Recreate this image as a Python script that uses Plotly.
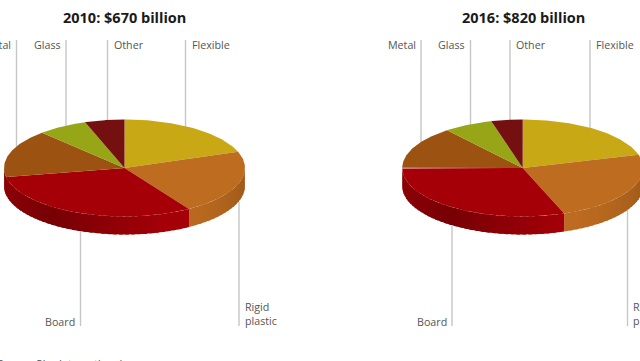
import numpy as np
import plotly.graph_objects as go

categories = ["Flexible", "Rigid plastic", "Board", "Metal", "Glass", "Other"]
values_2010 = [19.6, 21.4, 31.0, 16.0, 6.7, 5.3]
values_2016 = [20.6, 23.8, 30.4, 14.4, 6.6, 4.2]
titles = ["2010: $670 billion", "2016: $820 billion"]
colors = ["#C9A815", "#BE6C20", "#A50007", "#9C5210", "#97A617", "#741010"]

RX, RY, DEPTH = 120.5, 48.5, 18
CY = 168
panels = [
    dict(values=values_2010, title=titles[0], cx=124.5, tx=124,
         leaders={"Metal": 16.5, "Glass": 66, "Other": 107.5, "Flexible": 185.5, "Board": 80.5, "Rigid plastic": 239},
         low={"Board": 232, "Rigid plastic": 202}),
    dict(values=values_2016, title=titles[1], cx=522.7, tx=523,
         leaders={"Metal": 421, "Glass": 470.5, "Other": 510, "Flexible": 590, "Board": 452, "Rigid plastic": 627.5},
         low={"Board": 226, "Rigid plastic": 210}),
]
top_cats = ["Metal", "Glass", "Other", "Flexible"]
right_of_line = ["Other", "Flexible"]
GREY = "#c6c6c6"
TXT = "#555555"


def shade(hex_col, f):
    r, g, b = (int(hex_col[i:i + 2], 16) for i in (1, 3, 5))
    return f"rgb({r * f:.0f},{g * f:.0f},{b * f:.0f})"


def pt(cx, a, dy=0.0):
    return cx + RX * np.sin(a), CY - RY * np.cos(a) + dy


fig = go.Figure()
annotations = []


def add_poly(xs, ys, color):
    fig.add_trace(go.Scatter(x=list(xs), y=list(ys), mode="lines", fill="toself", fillcolor=color,
                             line=dict(width=0), hoverinfo="skip", showlegend=False))


for p in panels:
    # leader lines
    for cat, lx in p["leaders"].items():
        y0, y1 = (40, CY) if cat in top_cats else (p["low"][cat], 326)
        fig.add_trace(go.Scatter(x=[lx, lx], y=[y0, y1], mode="lines", line=dict(color=GREY, width=1.4),
                                 hoverinfo="skip", showlegend=False))
        if cat in top_cats:
            right = cat in right_of_line
            annotations.append(dict(x=lx + (5 if right else -4.5), y=45, text=cat,
                                    xanchor="left" if right else "right", yanchor="middle"))
        elif cat == "Board":
            annotations.append(dict(x=lx - 4.5, y=322, text=cat, xanchor="right", yanchor="middle"))
        else:
            annotations.append(dict(x=lx + 4.5, y=314, text="Rigid<br>plastic", xanchor="left", yanchor="middle"))
    edges = np.cumsum([0] + p["values"]) / 100 * 2 * np.pi
    # side wall: painted right to left, each strip overlapping the previous one
    for i, col in enumerate(colors):
        a0 = max(edges[i], np.pi / 2)
        # the board's wall runs on to the far left edge of the pie
        a1 = 3 * np.pi / 2 if col == colors[2] else min(edges[i + 1], 3 * np.pi / 2)
        if a1 <= a0 or col == colors[3]:
            continue
        n = max(2, int((a1 - a0) / 0.05))
        steps = np.linspace(a0, a1, n + 1)
        for s0, s1 in zip(steps[:-1], steps[1:]):
            m = (s0 + s1) / 2
            rel = np.sin(m)
            if col == colors[2]:
                f = 0.72 + 0.28 * np.clip((rel + 0.62) / 0.95, 0, 1) if rel > -0.62 else 0.72 + 0.12 * (-0.62 - rel) / 0.38
            else:
                f = 1.0 - 0.16 * np.clip(rel, 0, 1) ** 3
            sub = np.linspace(max(a0, s0 - 0.03), s1, 5)
            x1, y1 = pt(p["cx"], sub)
            x2, y2 = pt(p["cx"], sub[::-1], DEPTH)
            add_poly(np.r_[x1, x2], np.r_[y1, y2], shade(col, f))
    # top face
    for i, col in enumerate(colors):
        sub = np.linspace(edges[i], edges[i + 1], 60)
        x, y = pt(p["cx"], sub)
        add_poly(np.r_[p["cx"], x, p["cx"]], np.r_[CY, y, CY], col)
    annotations.append(dict(x=p["tx"], y=17, text=f"<b>{p['title']}</b>", xanchor="center", yanchor="middle",
                            font=dict(family="Open Sans", size=14.5, color="#1a1a1a")))

annotations.append(dict(x=122, y=355, text="<i>Source: Pira International</i>", xanchor="right", yanchor="top",
                        font=dict(family="Open Sans", size=11, color=TXT)))
for a in annotations:
    a.setdefault("font", dict(family="Open Sans", size=10.7, color=TXT))
    a.update(showarrow=False, xref="x", yref="y", borderpad=0, align="left")

fig.update_layout(
    width=640, height=361, margin=dict(l=0, r=0, t=0, b=0),
    paper_bgcolor="white", plot_bgcolor="white", showlegend=False, annotations=annotations,
    xaxis=dict(range=[0, 640], visible=False, fixedrange=True),
    yaxis=dict(range=[361, 0], visible=False, fixedrange=True),
)
fig.write_html("out.html", config={"displayModeBar": False},
               post_script="document.body.style.margin='0';document.body.style.overflow='hidden';")
